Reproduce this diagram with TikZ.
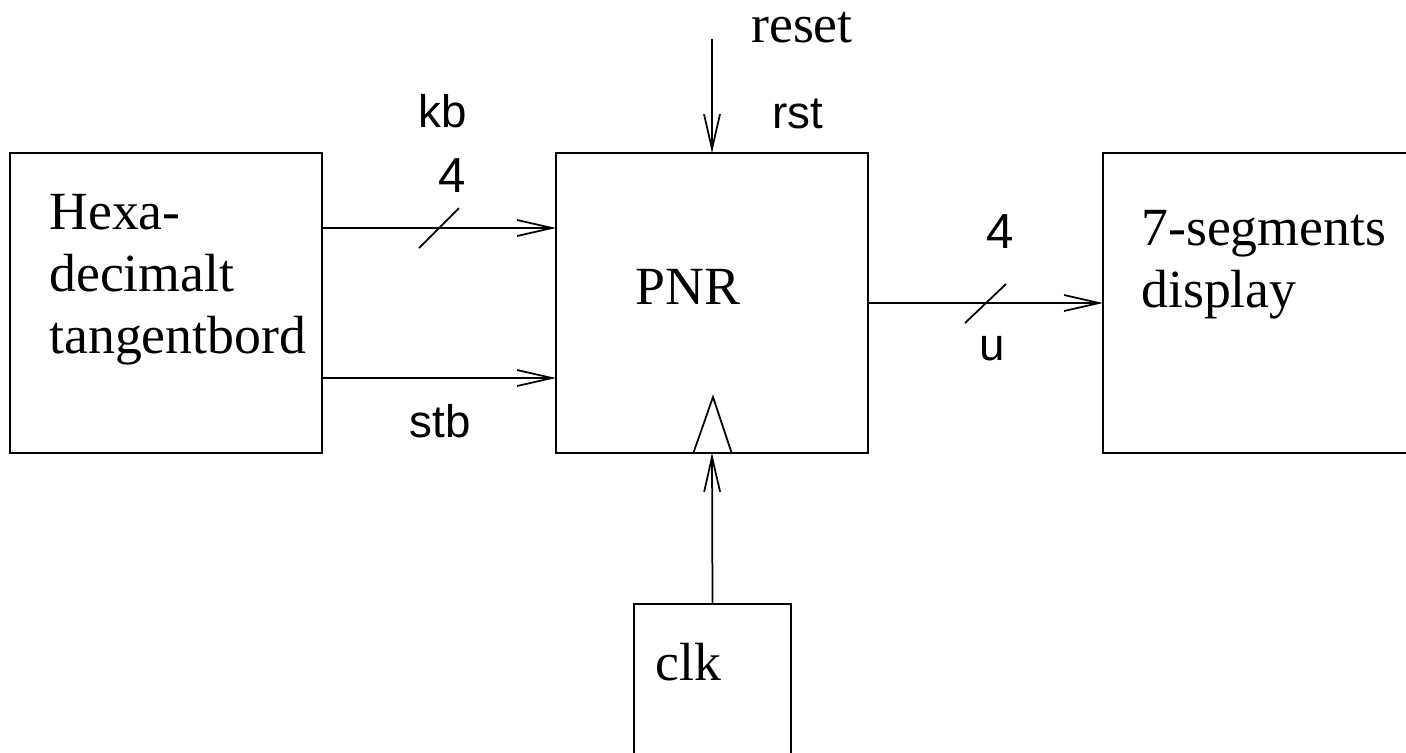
\documentclass[tikz,border=0pt]{standalone}
\usepackage{fontspec}
\setmainfont{Liberation Serif}
\setsansfont{Liberation Sans}
\usetikzlibrary{arrows.meta}
\begin{document}
\begin{tikzpicture}[x=0.02cm, y=-0.02cm,
  block/.style={draw, line width=0.035cm, inner sep=0pt, outer sep=0pt},
  sig/.style={line width=0.035cm, -{Straight Barb[length=0.7cm, width=0.32cm, line width=0.035cm]}},
  wire/.style={line width=0.035cm},
  serif/.style={inner sep=0pt, anchor=base west, font=\fontsize{30.6}{36}\selectfont},
  lbl/.style={inner sep=0pt, anchor=base, font=\sffamily\fontsize{26}{30}\selectfont},
  bus/.style={inner sep=0pt, anchor=base, font=\sffamily\fontsize{28}{32}\selectfont}]
\useasboundingbox (0,0) rectangle (1406,752);

% blocks
\node[block, minimum width=6.24cm, minimum height=6cm] (hex) at (166,303) {};
\node[block, minimum width=6.24cm, minimum height=6cm] (pnr) at (712,303) {};
\node[block, minimum width=6.08cm, minimum height=6cm] (disp) at (1255,303) {};
\node[block, minimum width=3.14cm, minimum height=4cm] (clk) at (712.5,704) {};

% block texts
\node[serif] (t1) at (49,229) {Hexa-};
\node[serif] (t2) at (49,291) {decimalt};
\node[serif] (t3) at (49,353) {tangentbord};
\node[serif] (t4) at (1141,245) {7-segments};
\node[serif] (t5) at (1141,307) {display};
\node[serif] (tp) at (635,304) {PNR};
\node[serif] (tc) at (655,680) {clk};
\node[serif, anchor=base] (treset) at (802,42) {reset};

% signal rows
\coordinate (kbrow) at (0,228);
\coordinate (stbrow) at (0,378);
\coordinate (urow) at (0,303);
\coordinate (rsttop) at (712,39);

\draw[sig] (hex.east |- kbrow) -- (pnr.west |- kbrow);
\draw[sig] (hex.east |- stbrow) -- (pnr.west |- stbrow);
\draw[sig] (pnr.east |- urow) -- (disp.west |- urow);
\draw[sig] (rsttop) -- (pnr.north);
\draw[sig] (clk.north) -- (pnr.south);

% bus width marks
\draw[wire] (419,248) -- (459,208);
\draw[wire] (965,323) -- (1006,284);

% clock input triangle
\draw[wire, line join=miter] (693,454) -- (713,397) -- (732,454);

% signal labels
\node[lbl] (lkb) at (443,127) {kb};
\node[lbl] (lrst) at (798,128) {rst};
\node[lbl] (lstb) at (440,437) {stb};
\node[lbl] (lu) at (992,360) {u};
\node[bus] (n1) at (452,192) {4};
\node[bus] (n2) at (1000,248) {4};
\end{tikzpicture}
\end{document}
